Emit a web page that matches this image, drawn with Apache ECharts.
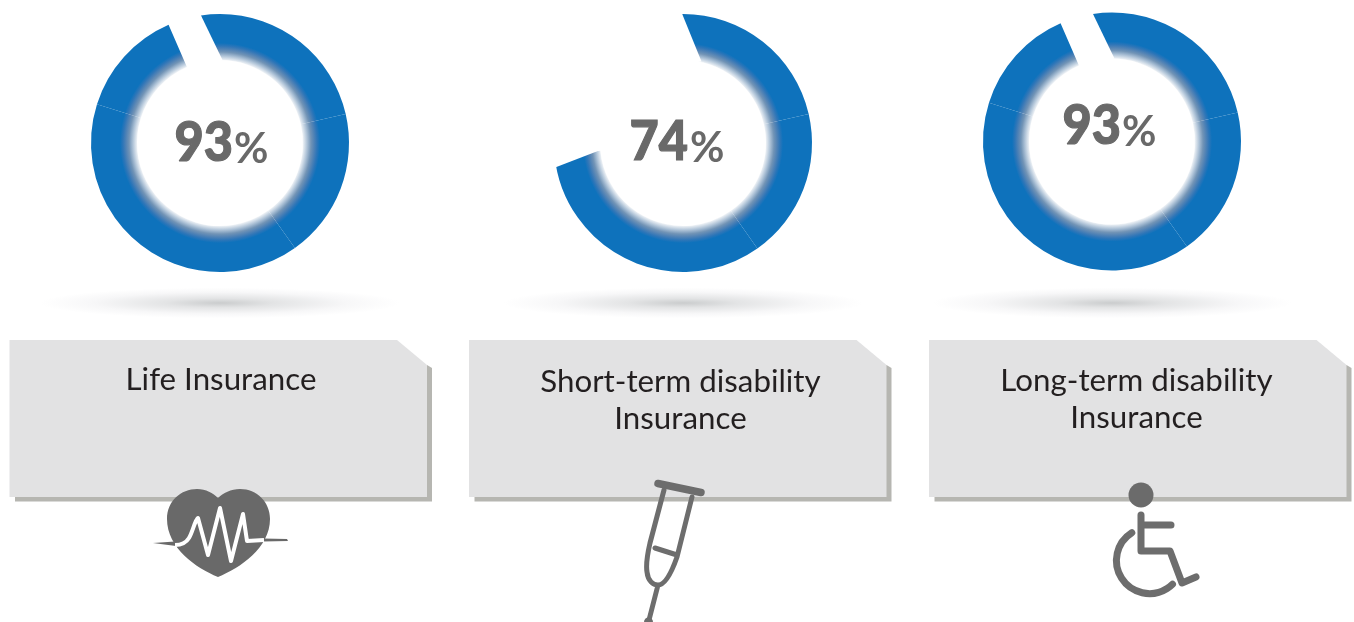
<!DOCTYPE html>
<html>
<head>
<meta charset="utf-8">
<script src="https://cdn.jsdelivr.net/npm/echarts@6/dist/echarts.min.js"></script>
<style>
html,body{margin:0;padding:0;background:#fff}
#main{width:1354px;height:622px}
</style>
</head>
<body>
<div id="main"></div>
<script>
// values
var categories = ["Life Insurance", "Short-term disability\nInsurance", "Long-term disability\nInsurance"];
var percents = [93, 74, 93];
// ring pieces in degrees, clockwise, last one is the empty part
var arcsLife = [8.5, 77, 67.5, 143, 49, 15];
var arcsShort = [77.4, 67.8, 119.8, 95];
var arcsLong = [8.5, 77, 67.5, 143, 49, 15];
var arcStarts = [8.5, 0.4, 8.5];

var allArcs = [arcsLife, arcsShort, arcsLong];
var centers = [[220, 143], [683, 143], [1112, 141.5]];
var boxLeft = [9.5, 469, 929];
var RO = 129, RI = 83;
var BLUE = "#0e72bc", GREY = "#696969";

var chart = echarts.init(document.getElementById("main"));

function ringColor(c) {
  return {
    type: "radial", x: c[0], y: c[1], r: RO, global: true,
    colorStops: [
      {offset: 0, color: "#ffffff"},
      {offset: 83 / RO, color: "#eef2f6"},
      {offset: 87 / RO, color: "#b0c4d8"},
      {offset: 91 / RO, color: "#7294b6"},
      {offset: 94 / RO, color: "#5283b5"},
      {offset: 97 / RO, color: "#2f76b8"},
      {offset: 100 / RO, color: BLUE},
      {offset: 1, color: BLUE}
    ]
  };
}

var series = allArcs.map(function (arcs, k) {
  return {
    type: "pie",
    silent: true,
    center: centers[k],
    radius: [RI, RO],
    startAngle: 90 + arcStarts[k],
    clockwise: true,
    animation: false,
    label: {show: false},
    labelLine: {show: false},
    data: arcs.map(function (v, i) {
      var empty = i == arcs.length - 1;
      return {value: v, itemStyle: {color: empty ? "transparent" : ringColor(centers[k]), borderWidth: 0}};
    })
  };
});

var gfx = [];

// floor shadows under the rings
centers.forEach(function (c) {
  gfx.push({
    type: "circle", z: 1, x: c[0], y: 303, scaleY: 0.085,
    shape: {cx: 0, cy: 0, r: 180},
    style: {fill: {type: "radial", x: 0.5, y: 0.5, r: 0.5, colorStops: [
      {offset: 0, color: "#cacccd"},
      {offset: 0.3, color: "#e3e4e5"},
      {offset: 0.7, color: "#f7f7f8"},
      {offset: 1, color: "#ffffff"}
    ]}}
  });
});

// white cuts, the ends of the rings are not radial
var masks = [
  [[201, 15.5], [222.5, 60], [207, 63], [196, 10]],
  [[682, 13.5], [701.5, 61.5], [680, 64], [674, 8]],
  [[600.5, 150], [546, 171], [546, 148]],
  [[1093, 14], [1114.5, 58.5], [1099, 61.5], [1088, 8.5]]
];
masks.forEach(function (m) {
  gfx.push({type: "polygon", z: 100, shape: {points: m}, style: {fill: "#fff"}});
});

// label boxes
boxLeft.forEach(function (x, k) {
  gfx.push({
    type: "polygon", z: 101,
    shape: {points: [[x + 5.5, 497], [x + 5.5, 501.5], [x + 422.5, 501.5], [x + 422.5, 368], [x + 417.5, 365]]},
    style: {fill: "#b6b6b1"}
  });
  gfx.push({
    type: "polygon", z: 102,
    shape: {points: [[x, 340], [x + 387.5, 340], [x + 417.5, 365], [x + 417.5, 497], [x, 497]]},
    style: {fill: "#e2e2e3"}
  });
});

// box texts
var labelX = [221, 680.5, 1136.5];
var labelY = [380, 382, 381];
categories.forEach(function (name, k) {
  name.split("\n").forEach(function (line, j) {
    gfx.push({
      type: "text", z: 103, x: labelX[k], y: labelY[k] + j * 37,
      style: {text: line, fill: "#231f20", font: "31.3px Lato, sans-serif", textAlign: "center", textVerticalAlign: "middle"}
    });
  });
});

// percents in the middle of the rings, number and sign placed apart
var numRight = [233, 688, 1121];
var signLeft = [234, 690, 1122];
var baseY = [162, 161, 145];
percents.forEach(function (p, k) {
  gfx.push({
    type: "text", z: 103, x: numRight[k], y: baseY[k] - 19, scaleX: 0.9,
    style: {text: String(p), fill: GREY, stroke: GREY, lineWidth: 1.2, font: "900 56px Lato, sans-serif", textAlign: "right", textVerticalAlign: "middle"}
  });
  gfx.push({
    type: "text", z: 103, x: signLeft[k], y: baseY[k] - 13,
    style: {text: "%", fill: GREY, font: "700 42px Lato, sans-serif", textAlign: "left", textVerticalAlign: "middle"}
  });
});

// heart side lines and the small round parts of the icons
gfx.push({type: "polygon", z: 104, shape: {points: [[153, 543], [175, 541.5], [176, 546]]}, style: {fill: GREY}});
gfx.push({type: "polygon", z: 104, shape: {points: [[263, 538.5], [287, 539], [288, 541], [263, 541.5]]}, style: {fill: GREY}});
gfx.push({type: "line", z: 104, shape: {x1: 658, y1: 483.5, x2: 701, y2: 492.5}, style: {stroke: "#6d6d6d", lineWidth: 7.5, lineCap: "round"}});
gfx.push({type: "circle", z: 104, shape: {cx: 648.5, cy: 622, r: 4.5}, style: {fill: "#6d6d6d"}});
gfx.push({type: "circle", z: 104, shape: {cx: 1141, cy: 495, r: 12.5}, style: {fill: "#6b6b6b"}});

// svg paths only work in a custom series, not in graphic
var crutch = {fill: "none", stroke: "#6d6d6d", lineWidth: 5, lineCap: "round", lineJoin: "round"};
var wheel = {fill: "none", stroke: "#6d6d6d", lineWidth: 7, lineCap: "round", lineJoin: "round"};
var iconPaths = [
  {d: "M218 577 C196 568 167 548 167 519 C167 501 181 489 197 489 C206 489 213 493 218 498 C223 493 231 489 240 489 C257 489 270 502 270 519 C270 548 240 568 218 577 Z", style: {fill: GREY}},
  {d: "M175 545 C182 545 186 543 189 538 C193 531 195 520 198 518 L208 555 L220 508 L231 561 L243 514 L247 541 L264 540", style: {fill: "none", stroke: "#fff", lineWidth: 4, lineJoin: "round"}},
  {d: "M664 490 L650 543 C647 556 646 566 647 572 C648 581 653 585 658 585 C664 585 670 577 677 557 L692 497 M655 548 L677 555 M658 585 L649 620", style: crutch},
  {d: "M1141 515 L1141 551 L1170 551 L1182 583 L1196 577 M1141 525 L1171 525", style: wheel},
  {d: "M1131.8 532.7 A33 33 0 1 0 1172.5 584.2", style: wheel}
];
series.push({
  type: "custom",
  coordinateSystem: "none",
  silent: true,
  z: 200,
  data: [[0]],
  renderItem: function () {
    return {
      type: "group",
      children: iconPaths.map(function (p) {
        return {type: "path", shape: {pathData: p.d}, style: p.style};
      })
    };
  }
});

chart.setOption({
  animation: false,
  backgroundColor: "#ffffff",
  tooltip: {show: false},
  legend: {show: false},
  series: series,
  graphic: {elements: gfx}
});
window.addEventListener("resize", function () {
  chart.resize();
});
</script>
</body>
</html>
